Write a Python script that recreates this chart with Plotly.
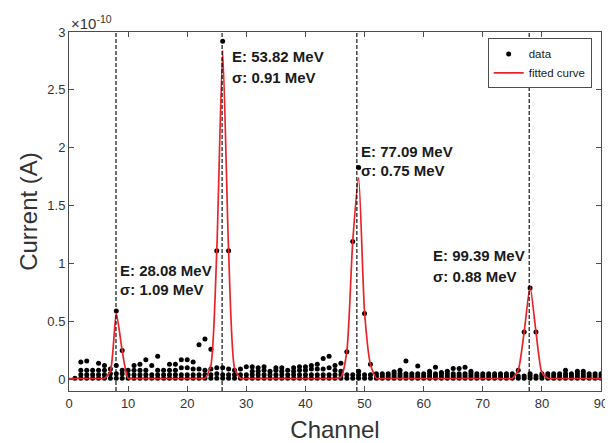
import plotly.graph_objects as go

# ---------------- data (current in units of 1e-10 A) ----------------
channels = list(range(1, 91))

# bottom row of measured points (~baseline)
row_a = [0.01] * 90
# second row
row_b = [None, 0.04, 0.04, 0.04, 0.04, 0.04, 0.05, 0.05, 0.05, 0.04,
         0.04, 0.04, 0.04, 0.04, 0.04, 0.04, 0.04, 0.04, 0.04, 0.04,
         0.04, 0.04, 0.04, 0.04, 0.05, 0.04, 0.04, 0.04, 0.04, 0.04,
         0.04, 0.04, 0.04, 0.04, 0.04, 0.04, 0.04, 0.04, 0.04, 0.04,
         0.04, 0.04, 0.04, 0.04, 0.04, 0.04, 0.04, 0.04, 0.04, 0.04,
         0.04, 0.03, 0.03, 0.03, 0.03, 0.03, 0.03, 0.03, 0.03, 0.03,
         0.03, 0.03, 0.03, 0.03, 0.03, 0.03, 0.03, 0.03, 0.03, 0.03,
         0.03, 0.03, 0.03, 0.03, 0.03, 0.03, 0.03, 0.03, 0.03, 0.03,
         0.03, 0.03, 0.03, 0.03, 0.03, 0.03, 0.03, 0.03, 0.03, 0.03]
# third row
row_c = [None, 0.08, 0.08, 0.08, 0.08, 0.08, 0.09, 0.12, 0.08, 0.08,
         0.08, 0.08, 0.08, None, 0.08, 0.08, 0.08, 0.08, 0.10, 0.10,
         0.09, 0.09, 0.08, 0.09, 0.10, 0.10, 0.09, 0.08, 0.09, 0.11,
         0.07, 0.07, 0.08, 0.07, 0.08, 0.07, 0.08, 0.07, 0.08, 0.08,
         0.09, 0.09, 0.09, 0.10, 0.08, 0.07, None, None, 0.07, None,
         None, 0.05, 0.05, 0.05, 0.05, 0.05, 0.05, 0.05, 0.05, 0.05,
         0.05, 0.05, 0.05, 0.05, 0.05, 0.05, 0.05, 0.05, 0.05, 0.05,
         0.05, 0.05, 0.05, 0.05, 0.05, None, None, 0.05, None, 0.05,
         0.05, 0.05, 0.05, 0.05, 0.05, 0.05, 0.05, 0.05, 0.05, 0.05]
# upper scattered points and peak points
row_d = [None, 0.15, 0.16, None, 0.14, 0.12, None, 0.59, 0.25, None,
         0.12, 0.13, 0.17, 0.12, 0.20, None, 0.13, 0.13, 0.17, 0.17,
         0.15, 0.30, 0.35, 0.26, 1.11, 2.92, 1.11, None, None, None,
         0.11, 0.10, 0.11, None, 0.10, 0.10, None, 0.10, 0.11, 0.11,
         0.12, 0.13, 0.18, 0.20, 0.12, 0.14, 0.24, 1.19, 1.83, 0.57,
         0.13, None, None, None, 0.066, 0.08, 0.16, None, 0.115, None,
         0.07, 0.105, 0.06, 0.07, 0.095, 0.095, 0.105, 0.07, None, None,
         None, None, None, None, None, 0.08, 0.41, 0.79, 0.41, None,
         None, None, None, 0.08, None, 0.07, 0.07, None, None, None]

# fitted curve, read at each channel
fit_channels = list(range(0, 91))
fit_values = [0.008, 0.008, 0.008, 0.008, 0.008, 0.008, 0.01, 0.07, 0.57, 0.25,
              0.01, 0.008, 0.008, 0.008, 0.008, 0.008, 0.008, 0.008, 0.008, 0.008,
              0.008, 0.008, 0.008, 0.01, 0.12, 1.11, 2.84, 1.11, 0.10, 0.01,
              0.008, 0.008, 0.008, 0.008, 0.008, 0.008, 0.008, 0.008, 0.008, 0.008,
              0.008, 0.008, 0.008, 0.008, 0.008, 0.008, 0.02, 0.24, 1.19, 1.74,
              0.58, 0.13, 0.01, 0.008, 0.008, 0.008, 0.008, 0.008, 0.008, 0.008,
              0.008, 0.008, 0.008, 0.008, 0.008, 0.008, 0.008, 0.008, 0.008, 0.008,
              0.008, 0.008, 0.008, 0.008, 0.008, 0.01, 0.08, 0.41, 0.80, 0.41,
              0.06, 0.01, 0.008, 0.008, 0.008, 0.008, 0.008, 0.008, 0.008, 0.008,
              0.008]

# fitted peak centres (channel) and labels
peak_centres = [7.95, 25.9, 48.7, 77.85]
peak_energy = ["E: 28.08 MeV", "E: 53.82 MeV", "E: 77.09 MeV", "E: 99.39 MeV"]
peak_sigma = ["σ: 1.09 MeV", "σ: 0.91 MeV", "σ: 0.75 MeV", "σ: 0.88 MeV"]
label_x = [8.3, 27.2, 49.0, 61.3]
label_y_energy = [0.94, 2.79, 1.97, 1.07]
label_y_sigma = [0.78, 2.61, 1.80, 0.89]

y_ticks = [0, 0.5, 1, 1.5, 2, 2.5, 3]
y_tick_text = ["0", "0.5", "1", "1.5", "2", "2.5", "3"]
x_ticks = [0, 10, 20, 30, 40, 50, 60, 70, 80, 90]

# ---------------- figure ----------------
FONT = "Liberation Sans, Arial, Helvetica, sans-serif"
AX = "#4d4d4d"
TXT = "#333333"

px, py = [], []
for row in (row_a, row_b, row_c, row_d):
    for c, v in zip(channels, row):
        if v is not None:
            px.append(c)
            py.append(v)

fig = go.Figure()
fig.add_trace(go.Scatter(x=px, y=py, mode="markers", name="data",
                         marker=dict(color="black", size=5)))
fig.add_trace(go.Scatter(x=fit_channels, y=fit_values, mode="lines",
                         name="fitted curve",
                         line=dict(color="#e8242a", width=1.7,
                                   shape="spline", smoothing=0.6)))

for xc in peak_centres:
    fig.add_shape(type="line", xref="x", yref="paper", x0=xc, x1=xc, y0=0, y1=1,
                  line=dict(color="black", width=1.1, dash="4px,2px"), layer="above")

for x, t1, t2, y1, y2 in zip(label_x, peak_energy, peak_sigma,
                             label_y_energy, label_y_sigma):
    fig.add_annotation(x=x, y=y1, text="<b>" + t1 + "</b>", showarrow=False,
                       xanchor="left", yanchor="middle",
                       font=dict(family=FONT, size=15, color="#1a1a1a"))
    fig.add_annotation(x=x, y=y2, text="<b>" + t2 + "</b>", showarrow=False,
                       xanchor="left", yanchor="middle",
                       font=dict(family=FONT, size=15, color="#1a1a1a"))

fig.add_annotation(xref="paper", yref="paper", x=0.0, y=1.0, xanchor="left",
                   yanchor="bottom", text="×10<sup>-10</sup>", showarrow=False,
                   font=dict(family=FONT, size=15, color=TXT), yshift=-2)

# page body has an 8px default margin, so the figure is offset by 8px
fig.update_layout(
    width=605, height=435,
    margin=dict(l=61, r=12, t=24, b=52, autoexpand=False),
    paper_bgcolor="white", plot_bgcolor="white",
    font=dict(family=FONT, color=TXT),
    showlegend=True,
    legend=dict(x=0.787, y=0.982, xanchor="left", yanchor="top",
                bgcolor="white", bordercolor=AX, borderwidth=1,
                font=dict(family=FONT, size=11.5, color="#1a1a1a"),
                itemwidth=30, tracegroupgap=0),
    xaxis=dict(range=[0, 90], tickvals=x_ticks, ticks="inside", ticklen=5,
               tickcolor=AX, showline=True, linecolor=AX, linewidth=1,
               mirror="allticks", showgrid=False, zeroline=False,
               automargin=False,
               tickfont=dict(family=FONT, size=13, color=TXT),
               title=dict(text="Channel",
                          font=dict(family=FONT, size=24, color=TXT))),
    yaxis=dict(range=[-0.1, 3], tickvals=y_ticks, ticktext=y_tick_text,
               ticks="inside", ticklen=5, tickcolor=AX, showline=True,
               linecolor=AX, linewidth=1, mirror="allticks", showgrid=False,
               zeroline=False, automargin=False,
               tickfont=dict(family=FONT, size=13, color=TXT),
               title=dict(text="Current (A)", standoff=2,
                          font=dict(family=FONT, size=24, color=TXT))),
)

fig.write_html("out.html")
